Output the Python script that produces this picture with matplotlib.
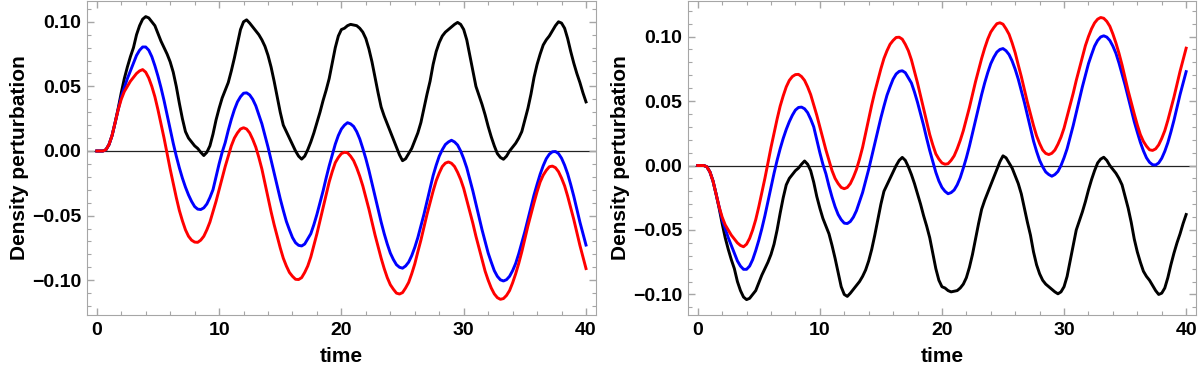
import numpy as np
import matplotlib
matplotlib.use('Agg')
import matplotlib.pyplot as plt
from matplotlib.ticker import MultipleLocator

# sample times (every 0.25 time units)
time = np.linspace(0, 40, 161)

# left panel, values
black_left = [0.000, 0.000, 0.000, 0.001, 0.005, 0.012, 0.022, 0.033, 0.045, 0.056,
              0.065, 0.073, 0.080, 0.090, 0.097, 0.102, 0.104, 0.103, 0.100, 0.097,
              0.091, 0.085, 0.080, 0.075, 0.069, 0.061, 0.050, 0.037, 0.025, 0.015,
              0.010, 0.007, 0.004, 0.002, -0.001, -0.0035, -0.001, 0.004, 0.013, 0.024,
              0.033, 0.041, 0.047, 0.053, 0.062, 0.072, 0.083, 0.094, 0.100, 0.1015,
              0.099, 0.096, 0.093, 0.090, 0.086, 0.081, 0.074, 0.065, 0.054, 0.042,
              0.030, 0.020, 0.015, 0.010, 0.005, 0.000, -0.004, -0.0063, -0.004, 0.001,
              0.007, 0.014, 0.022, 0.030, 0.039, 0.047, 0.056, 0.068, 0.080, 0.089,
              0.094, 0.095, 0.097, 0.098, 0.0975, 0.097, 0.095, 0.092, 0.087, 0.079,
              0.069, 0.057, 0.045, 0.034, 0.027, 0.021, 0.015, 0.009, 0.003, -0.003,
              -0.0075, -0.006, -0.002, 0.002, 0.008, 0.014, 0.022, 0.033, 0.044, 0.054,
              0.067, 0.077, 0.084, 0.089, 0.092, 0.094, 0.096, 0.098, 0.0995, 0.098,
              0.094, 0.086, 0.074, 0.062, 0.050, 0.043, 0.036, 0.028, 0.019, 0.011,
              0.004, -0.002, -0.005, -0.0064, -0.004, 0.000, 0.003, 0.006, 0.010, 0.015,
              0.024, 0.033, 0.044, 0.057, 0.067, 0.075, 0.082, 0.086, 0.089, 0.093,
              0.097, 0.100, 0.099, 0.095, 0.087, 0.077, 0.068, 0.060, 0.053, 0.045,
              0.038]
blue_left = [0.000, 0.000, 0.000, 0.001, 0.005, 0.012, 0.022, 0.032, 0.042, 0.049,
             0.056, 0.062, 0.068, 0.074, 0.078, 0.0805, 0.0805, 0.078, 0.073, 0.066,
             0.058, 0.049, 0.039, 0.028, 0.017, 0.006, -0.004, -0.013, -0.021, -0.028,
             -0.034, -0.039, -0.043, -0.045, -0.0453, -0.044, -0.041, -0.036, -0.030, -0.020,
             -0.010, -0.001, 0.0065, 0.016, 0.0245, 0.032, 0.038, 0.042, 0.0447, 0.045,
             0.0434, 0.040, 0.035, 0.028, 0.021, 0.012, 0.003, -0.007, -0.017, -0.027,
             -0.037, -0.046, -0.0545, -0.061, -0.067, -0.071, -0.073, -0.0735, -0.072, -0.068,
             -0.064, -0.057, -0.049, -0.040, -0.031, -0.021, -0.0116, -0.003, 0.0053, 0.012,
             0.017, 0.020, 0.0219, 0.021, 0.019, 0.015, 0.0094, 0.002, -0.006, -0.015,
             -0.025, -0.035, -0.045, -0.055, -0.064, -0.072, -0.079, -0.084, -0.088, -0.090,
             -0.0907, -0.089, -0.086, -0.081, -0.0746, -0.067, -0.058, -0.049, -0.039, -0.029,
             -0.019, -0.011, -0.004, 0.001, 0.005, 0.007, 0.0083, 0.007, 0.0046, 0.000,
             -0.006, -0.013, -0.022, -0.031, -0.041, -0.051, -0.061, -0.070, -0.079, -0.086,
             -0.0926, -0.097, -0.0997, -0.1006, -0.0996, -0.097, -0.0926, -0.087, -0.0795, -0.071,
             -0.0624, -0.053, -0.0436, -0.034, -0.0258, -0.018, -0.0114, -0.006, -0.0025, -0.0006,
             -0.0004, -0.002, -0.0056, -0.011, -0.0177, -0.026, -0.035, -0.045, -0.055, -0.064,
             -0.0728]
red_left = [0.000, 0.000, 0.000, 0.001, 0.005, 0.012, 0.022, 0.032, 0.040, 0.046,
            0.050, 0.054, 0.057, 0.060, 0.062, 0.063, 0.061, 0.0565, 0.050, 0.042,
            0.032, 0.021, 0.010, -0.002, -0.014, -0.025, -0.036, -0.046, -0.054, -0.061,
            -0.066, -0.069, -0.0705, -0.0707, -0.069, -0.066, -0.061, -0.055, -0.047, -0.039,
            -0.030, -0.021, -0.012, -0.004, 0.004, 0.010, 0.014, 0.017, 0.018, 0.017,
            0.014, 0.009, 0.003, -0.005, -0.014, -0.025, -0.036, -0.047, -0.057, -0.066,
            -0.075, -0.083, -0.089, -0.094, -0.097, -0.0993, -0.0995, -0.098, -0.094, -0.089,
            -0.082, -0.073, -0.064, -0.054, -0.044, -0.034, -0.024, -0.016, -0.009, -0.005,
            -0.002, -0.001, -0.0014, -0.004, -0.0075, -0.013, -0.0195, -0.027, -0.036, -0.045,
            -0.055, -0.065, -0.074, -0.083, -0.091, -0.098, -0.1035, -0.107, -0.110, -0.1107,
            -0.1096, -0.106, -0.1017, -0.095, -0.0874, -0.078, -0.069, -0.059, -0.049, -0.040,
            -0.031, -0.023, -0.017, -0.012, -0.0094, -0.0085, -0.0095, -0.012, -0.0165, -0.022,
            -0.029, -0.038, -0.047, -0.056, -0.066, -0.075, -0.084, -0.093, -0.100, -0.106,
            -0.1106, -0.1135, -0.1148, -0.1142, -0.1118, -0.108, -0.102, -0.095, -0.087, -0.078,
            -0.068, -0.058, -0.049, -0.040, -0.0315, -0.024, -0.0187, -0.015, -0.0122, -0.0117,
            -0.0129, -0.016, -0.021, -0.027, -0.035, -0.044, -0.053, -0.063, -0.073, -0.082,
            -0.091]

# right panel, values (mirror image of the left one)
black_right = [0.000, 0.000, 0.000, -0.001, -0.005, -0.012, -0.022, -0.033, -0.045, -0.056,
               -0.065, -0.073, -0.080, -0.090, -0.097, -0.102, -0.104, -0.103, -0.100, -0.097,
               -0.091, -0.085, -0.080, -0.075, -0.069, -0.061, -0.050, -0.037, -0.025, -0.015,
               -0.010, -0.007, -0.004, -0.002, 0.001, 0.0035, 0.001, -0.004, -0.013, -0.024,
               -0.033, -0.041, -0.047, -0.053, -0.062, -0.072, -0.083, -0.094, -0.100, -0.1015,
               -0.099, -0.096, -0.093, -0.090, -0.086, -0.081, -0.074, -0.065, -0.054, -0.042,
               -0.030, -0.020, -0.015, -0.010, -0.005, 0.000, 0.004, 0.0063, 0.004, -0.001,
               -0.007, -0.014, -0.022, -0.030, -0.039, -0.047, -0.056, -0.068, -0.080, -0.089,
               -0.094, -0.095, -0.097, -0.098, -0.0975, -0.097, -0.095, -0.092, -0.087, -0.079,
               -0.069, -0.057, -0.045, -0.034, -0.027, -0.021, -0.015, -0.009, -0.003, 0.003,
               0.0075, 0.006, 0.002, -0.002, -0.008, -0.014, -0.022, -0.033, -0.044, -0.054,
               -0.067, -0.077, -0.084, -0.089, -0.092, -0.094, -0.096, -0.098, -0.0995, -0.098,
               -0.094, -0.086, -0.074, -0.062, -0.050, -0.043, -0.036, -0.028, -0.019, -0.011,
               -0.004, 0.002, 0.005, 0.0064, 0.004, 0.000, -0.003, -0.006, -0.010, -0.015,
               -0.024, -0.033, -0.044, -0.057, -0.067, -0.075, -0.082, -0.086, -0.089, -0.093,
               -0.097, -0.100, -0.099, -0.095, -0.087, -0.077, -0.068, -0.060, -0.053, -0.045,
               -0.038]
blue_right = [0.000, 0.000, 0.000, -0.001, -0.005, -0.012, -0.022, -0.032, -0.042, -0.049,
              -0.056, -0.062, -0.068, -0.074, -0.078, -0.0805, -0.0805, -0.078, -0.073, -0.066,
              -0.058, -0.049, -0.039, -0.028, -0.017, -0.006, 0.004, 0.013, 0.021, 0.028,
              0.034, 0.039, 0.043, 0.045, 0.0453, 0.044, 0.041, 0.036, 0.030, 0.020,
              0.010, 0.001, -0.0065, -0.016, -0.0245, -0.032, -0.038, -0.042, -0.0447, -0.045,
              -0.0434, -0.040, -0.035, -0.028, -0.021, -0.012, -0.003, 0.007, 0.017, 0.027,
              0.037, 0.046, 0.0545, 0.061, 0.067, 0.071, 0.073, 0.0735, 0.072, 0.068,
              0.064, 0.057, 0.049, 0.040, 0.031, 0.021, 0.0116, 0.003, -0.0053, -0.012,
              -0.017, -0.020, -0.0219, -0.021, -0.019, -0.015, -0.0094, -0.002, 0.006, 0.015,
              0.025, 0.035, 0.045, 0.055, 0.064, 0.072, 0.079, 0.084, 0.088, 0.090,
              0.0907, 0.089, 0.086, 0.081, 0.0746, 0.067, 0.058, 0.049, 0.039, 0.029,
              0.019, 0.011, 0.004, -0.001, -0.005, -0.007, -0.0083, -0.007, -0.0046, 0.000,
              0.006, 0.013, 0.022, 0.031, 0.041, 0.051, 0.061, 0.070, 0.079, 0.086,
              0.0926, 0.097, 0.0997, 0.1006, 0.0996, 0.097, 0.0926, 0.087, 0.0795, 0.071,
              0.0624, 0.053, 0.0436, 0.034, 0.0258, 0.018, 0.0114, 0.006, 0.0025, 0.0006,
              0.0004, 0.002, 0.0056, 0.011, 0.0177, 0.026, 0.035, 0.045, 0.055, 0.064,
              0.0728]
red_right = [0.000, 0.000, 0.000, -0.001, -0.005, -0.012, -0.022, -0.032, -0.040, -0.046,
             -0.050, -0.054, -0.057, -0.060, -0.062, -0.063, -0.061, -0.0565, -0.050, -0.042,
             -0.032, -0.021, -0.010, 0.002, 0.014, 0.025, 0.036, 0.046, 0.054, 0.061,
             0.066, 0.069, 0.0705, 0.0707, 0.069, 0.066, 0.061, 0.055, 0.047, 0.039,
             0.030, 0.021, 0.012, 0.004, -0.004, -0.010, -0.014, -0.017, -0.018, -0.017,
             -0.014, -0.009, -0.003, 0.005, 0.014, 0.025, 0.036, 0.047, 0.057, 0.066,
             0.075, 0.083, 0.089, 0.094, 0.097, 0.0993, 0.0995, 0.098, 0.094, 0.089,
             0.082, 0.073, 0.064, 0.054, 0.044, 0.034, 0.024, 0.016, 0.009, 0.005,
             0.002, 0.001, 0.0014, 0.004, 0.0075, 0.013, 0.0195, 0.027, 0.036, 0.045,
             0.055, 0.065, 0.074, 0.083, 0.091, 0.098, 0.1035, 0.107, 0.110, 0.1107,
             0.1096, 0.106, 0.1017, 0.095, 0.0874, 0.078, 0.069, 0.059, 0.049, 0.040,
             0.031, 0.023, 0.017, 0.012, 0.0094, 0.0085, 0.0095, 0.012, 0.0165, 0.022,
             0.029, 0.038, 0.047, 0.056, 0.066, 0.075, 0.084, 0.093, 0.100, 0.106,
             0.1106, 0.1135, 0.1148, 0.1142, 0.1118, 0.108, 0.102, 0.095, 0.087, 0.078,
             0.068, 0.058, 0.049, 0.040, 0.0315, 0.024, 0.0187, 0.015, 0.0122, 0.0117,
             0.0129, 0.016, 0.021, 0.027, 0.035, 0.044, 0.053, 0.063, 0.073, 0.082,
             0.091]

x_ticks = [0, 10, 20, 30, 40]
x_labels = ['0', '10', '20', '30', '40']
y_ticks = [-0.10, -0.05, 0.00, 0.05, 0.10]
y_labels = ['\u22120.10', '\u22120.05', '0.00', '0.05', '0.10']

plt.rcParams['font.family'] = ['Liberation Sans', 'DejaVu Sans']
plt.rcParams['font.weight'] = 'bold'

fig = plt.figure(figsize=(12, 3.72), dpi=100)
ax1 = fig.add_axes([0.0725, 0.153, 0.424, 0.844])
ax2 = fig.add_axes([0.5733, 0.153, 0.4233, 0.844])

frame_grey = '#a6a6a6'


def style(ax, ylim):
    ax.axhline(0, color='#222222', lw=0.9, zorder=1)
    ax.set_xlim(-0.8, 40.8)
    ax.set_ylim(*ylim)
    ax.set_xticks(x_ticks)
    ax.set_xticklabels(x_labels, fontsize=14, fontweight='bold')
    ax.set_yticks(y_ticks)
    ax.set_yticklabels(y_labels, fontsize=14, fontweight='bold')
    ax.xaxis.set_minor_locator(MultipleLocator(2))
    ax.yaxis.set_minor_locator(MultipleLocator(0.01))
    ax.tick_params(which='both', direction='in', top=True, right=True, color=frame_grey)
    ax.tick_params(which='major', length=5, width=1)
    ax.tick_params(which='minor', length=3, width=0.8)
    ax.tick_params(axis='x', pad=5)
    ax.tick_params(axis='y', pad=4)
    for s in ax.spines.values():
        s.set_color(frame_grey)
    ax.set_xlabel('time', fontsize=15, fontweight='bold', labelpad=6)
    ax.set_ylabel('Density perturbation', fontsize=15, fontweight='bold', labelpad=2)


ax1.plot(time, black_left, color='black', lw=2.1, zorder=3)
ax1.plot(time, blue_left, color='#0000ff', lw=2.1, zorder=3)
ax1.plot(time, red_left, color='#ff0000', lw=2.1, zorder=3)
style(ax1, (-0.127, 0.116))

ax2.plot(time, black_right, color='black', lw=2.1, zorder=3)
ax2.plot(time, blue_right, color='#0000ff', lw=2.1, zorder=3)
ax2.plot(time, red_right, color='#ff0000', lw=2.1, zorder=3)
style(ax2, (-0.116, 0.1275))

fig.savefig('out.png', dpi=100)
